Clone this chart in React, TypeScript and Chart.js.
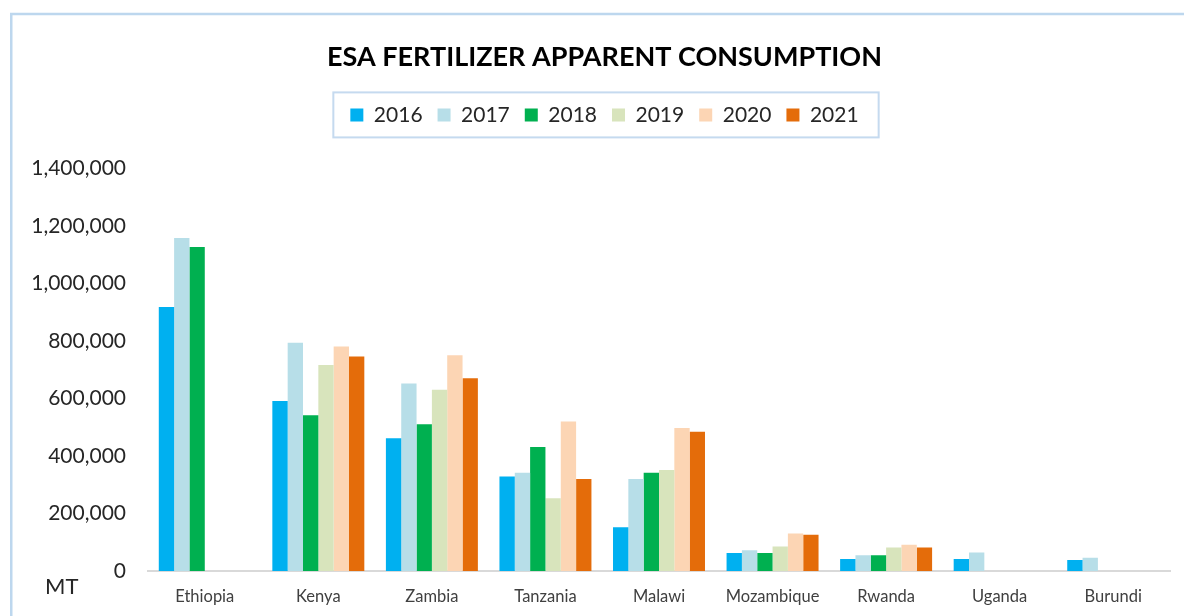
import React, { useEffect, useRef } from "react";
import { Chart, registerables } from "chart.js";

Chart.register(...registerables);

const countries = ["Ethiopia", "Kenya", "Zambia", "Tanzania", "Malawi", "Mozambique", "Rwanda", "Uganda", "Burundi"];
const years = ["2016", "2017", "2018", "2019", "2020", "2021"];
const colors = ["#00B0F0", "#B7DEE8", "#00B050", "#D8E4BC", "#FCD5B4", "#E46C0A"];

const v2016 = [918000, 591000, 462000, 329000, 152000, 63000, 41500, 41500, 38000];
const v2017 = [1158000, 794000, 652000, 342000, 320000, 72500, 55000, 64500, 46000];
const v2018 = [1127000, 542000, 510000, 431000, 342000, 63000, 55000, null, null];
const v2019 = [null, 716000, 630000, 253000, 351000, 85000, 82000, null, null];
const v2020 = [null, 781000, 750000, 520000, 497000, 130000, 91000, null, null];
const v2021 = [null, 746000, 670000, 320000, 484000, 126000, 82000, null, null];

const seriesValues = [v2016, v2017, v2018, v2019, v2020, v2021];

const yMin = 0;
const yMax = 1400000;
const yStep = 200000;
const unitLabel = "MT";
const titleText = "ESA FERTILIZER APPARENT CONSUMPTION";

const FONT = "Lato, 'Open Sans', sans-serif";
const FRAME = "#BDD7EE";

const decorPlugin = {
  id: "decor",
  beforeInit(chart: any) {
    const legend = chart.legend;
    if (legend) {
      const origFit = legend.fit;
      legend.fit = function () {
        origFit.call(this);
        this.height += 33;
      };
    }
  },
  beforeDraw(chart: any) {
    const ctx = chart.ctx;
    ctx.save();
    ctx.fillStyle = "#FFFFFF";
    ctx.fillRect(0, 0, chart.width, chart.height);
    ctx.strokeStyle = FRAME;
    ctx.lineWidth = 2.5;
    ctx.strokeRect(11.25, 14, chart.width + 20, chart.height + 20);
    ctx.restore();
  },
  afterDraw(chart: any) {
    const ctx = chart.ctx;
    const legend = chart.legend;
    ctx.save();
    if (legend && legend.legendHitBoxes && legend.legendHitBoxes.length) {
      const boxes = legend.legendHitBoxes;
      const first = boxes[0];
      const last = boxes[boxes.length - 1];
      const cy = first.top + first.height / 2;
      const left = first.left - 17;
      const right = last.left + last.width + 20;
      ctx.strokeStyle = "#C5DAEF";
      ctx.lineWidth = 2;
      ctx.strokeRect(left, cy - 22.5, right - left, 45);
    }
    const area = chart.chartArea;
    ctx.fillStyle = "#262626";
    ctx.font = "22px " + FONT;
    ctx.textAlign = "left";
    ctx.textBaseline = "middle";
    ctx.fillText(unitLabel, area.left - 103, area.bottom + 16);
    ctx.restore();
  },
};

export default function App() {
  const ref = useRef<HTMLCanvasElement | null>(null);

  useEffect(() => {
    if (!ref.current) return;
    const chart = new Chart(ref.current, {
      type: "bar",
      data: {
        labels: countries,
        datasets: years.map((y, i) => ({
          label: y,
          data: seriesValues[i],
          backgroundColor: colors[i],
          borderWidth: 0,
          categoryPercentage: 0.81,
          barPercentage: 1.0,
        })),
      },
      options: {
        responsive: false,
        animation: false,
        devicePixelRatio: 1,
        layout: { padding: { left: 39, right: 14, top: 0, bottom: 0 } },
        plugins: {
          title: {
            display: true,
            text: titleText,
            color: "#000000",
            font: { family: FONT, size: 27, weight: "bold" },
            padding: { top: 41, bottom: 16 },
          },
          legend: {
            display: true,
            position: "top",
            labels: {
              boxWidth: 13,
              boxHeight: 13,
              padding: 15,
              color: "#262626",
              font: { family: FONT, size: 21 },
            },
          },
          tooltip: { enabled: false },
        },
        scales: {
          x: {
            grid: { display: false, drawTicks: false },
            border: { display: true, color: "#D9D9D9", width: 2 },
            ticks: {
              color: "#404040",
              font: { family: FONT, size: 16.5 },
              padding: 16,
              maxRotation: 0,
              autoSkip: false,
            },
            afterFit: (scale: any) => {
              scale.height = 45;
            },
          },
          y: {
            min: yMin,
            max: yMax,
            grid: { display: false, drawTicks: false },
            border: { display: false },
            ticks: {
              stepSize: yStep,
              color: "#262626",
              font: { family: FONT, size: 21 },
              padding: 22,
              callback: (v: any) => Number(v).toLocaleString("en-US"),
            },
            afterFit: (scale: any) => {
              scale.width = 109;
              scale._computeLabelArea = () => undefined;
            },
          },
        },
      },
      plugins: [decorPlugin],
    });
    return () => chart.destroy();
  }, []);

  return (
    <div style={{ position: "absolute", left: 0, top: 0, width: 1184, height: 616 }}>
      <canvas ref={ref} width={1184} height={616} style={{ display: "block" }} />
    </div>
  );
}
